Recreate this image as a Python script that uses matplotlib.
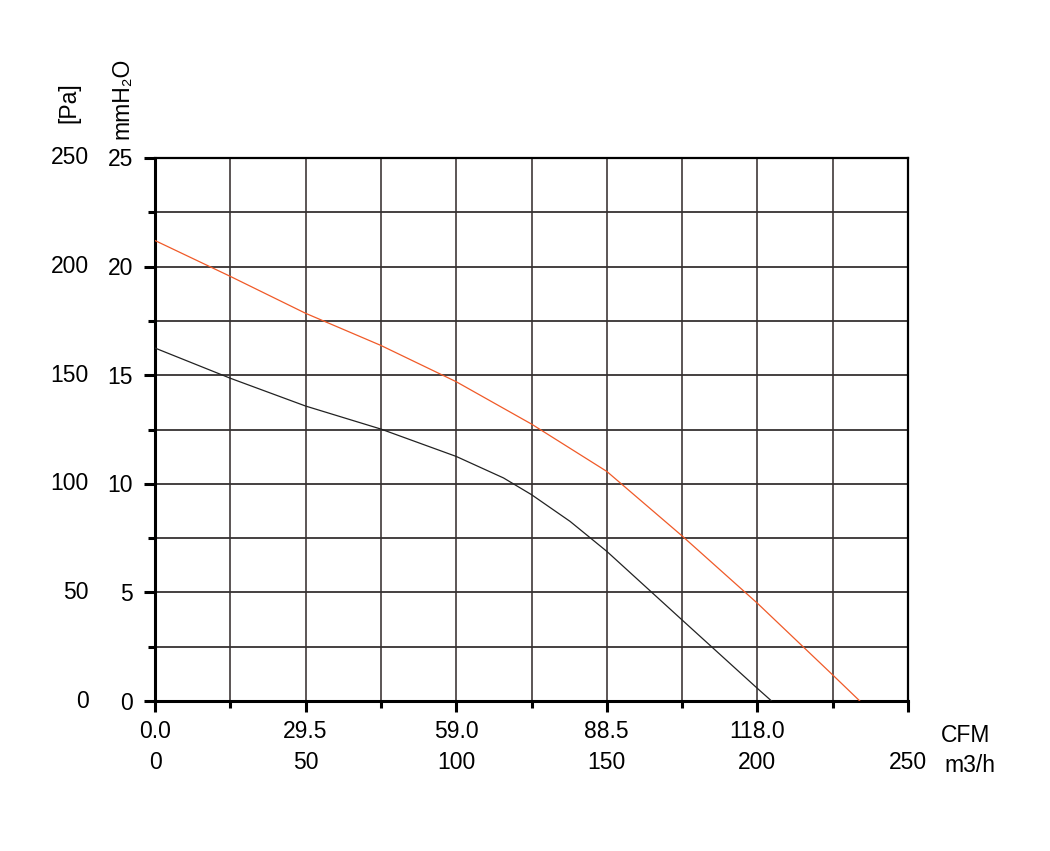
import matplotlib
matplotlib.use("Agg")
import matplotlib.pyplot as plt
import matplotlib.transforms as mtransforms

plt.rcParams['font.family'] = ['Liberation Sans', 'DejaVu Sans']

# Fan curves, airflow in m3/h, pressure in mmH2O
flow_red = [0, 25, 50, 75, 100, 125, 150, 175, 200, 225, 234]
pres_red = [21.2, 19.55, 17.85, 16.37, 14.7, 12.75, 10.57, 7.6, 4.5, 1.2, 0]

flow_black = [0, 25, 50, 75, 100, 115.7, 125, 137.8, 150, 175, 200, 204.7]
pres_black = [16.25, 14.86, 13.58, 12.52, 11.26, 10.27, 9.5, 8.27, 6.89, 3.73, 0.58, 0]

# axis labels
m3h_ticks = [0, 50, 100, 150, 200, 250]
cfm_labels = ["0.0", "29.5", "59.0", "88.5", "118.0"]
mmh2o_ticks = [0, 5, 10, 15, 20, 25]
pa_labels = ["0", "50", "100", "150", "200", "250"]

fig = plt.figure(figsize=(10.5, 8.51), dpi=100)
ax = fig.add_axes([155 / 1050, 150 / 851, 753 / 1050, 543 / 851])

ax.set_xlim(0, 250)
ax.set_ylim(0, 25)

# grid every 25 m3/h and 2.5 mmH2O
for gx in range(25, 250, 25):
    ax.axvline(gx, color='#4e4848', lw=1.3, zorder=1)
for i in range(1, 10):
    ax.axhline(i * 2.5, color='#363232', lw=1.3, zorder=1)

ax.plot(flow_black, pres_black, color='#222222', lw=0.9, zorder=3)
ax.plot(flow_red, pres_red, color='#f05a28', lw=0.9, zorder=3)

for side in ['left', 'bottom']:
    ax.spines[side].set_linewidth(2.2)
for side in ['top', 'right']:
    ax.spines[side].set_linewidth(1.6)

ax.set_xticks(m3h_ticks)
ax.set_xticks(range(25, 250, 50), minor=True)
ax.set_yticks(mmh2o_ticks)
ax.set_yticks([2.5, 7.5, 12.5, 17.5, 22.5], minor=True)
ax.tick_params(which='major', length=8, width=2.2, direction='out')
ax.tick_params(which='minor', length=5, width=2.2, direction='out')
ax.tick_params(labelbottom=False, labelleft=False)

fs = 16.5
# left labels: mmH2O column and Pa column
ytr = mtransforms.offset_copy(ax.transData, fig=fig, x=0, y=-2, units='dots')
for v, pa in zip(mmh2o_ticks, pa_labels):
    ax.text(-0.029, v, str(v), transform=mtransforms.blended_transform_factory(ax.transAxes, ytr),
            ha='right', va='center', fontsize=fs)
    ax.text(-0.088, v, pa, transform=mtransforms.blended_transform_factory(ax.transAxes, ax.transData),
            ha='right', va='center', fontsize=fs)

# bottom labels: CFM row and m3/h row
xb = mtransforms.blended_transform_factory(ax.transData, ax.transAxes)
for v, c in zip(m3h_ticks[:-1], cfm_labels):
    ax.text(v, -0.057, c, transform=xb, ha='center', va='center', fontsize=fs)
for v in m3h_ticks:
    ax.text(v, -0.114, str(v), transform=xb, ha='center', va='center', fontsize=fs)

ax.text(269, -0.064, "CFM", transform=xb, ha='center', va='center', fontsize=fs)
ax.text(270.5, -0.118, "m3/h", transform=xb, ha='center', va='center', fontsize=fs)

fig.text(69 / 1050, 1 - 103 / 851, "[Pa]", rotation=90, ha='center', va='center', fontsize=fs)
fig.text(122 / 1050, 1 - 98 / 851, "mmH\u2082O", rotation=90, ha='center', va='center', fontsize=fs)

fig.savefig("out.png", dpi=100)
